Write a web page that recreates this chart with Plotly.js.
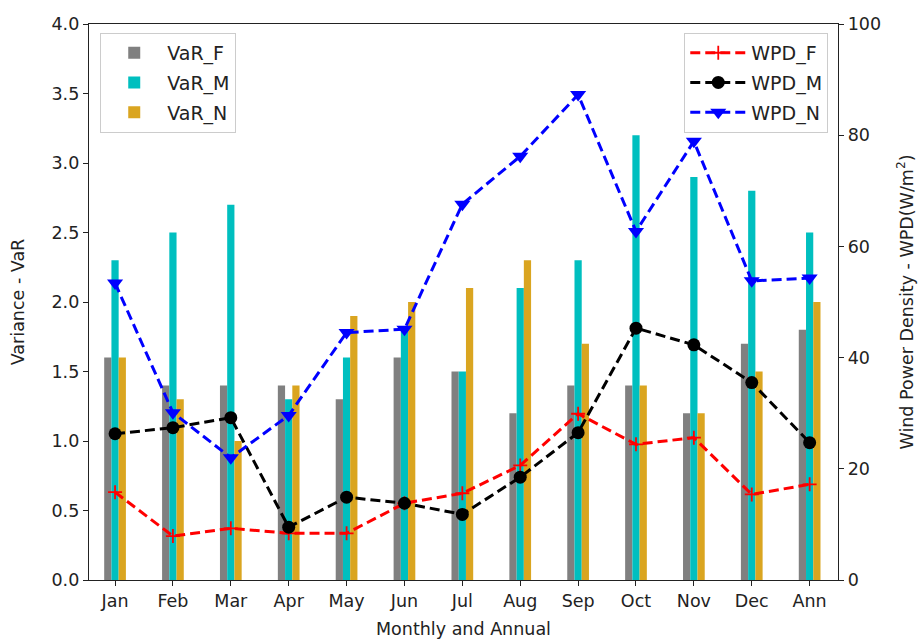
<!DOCTYPE html>
<html>
<head>
<meta charset="utf-8">
<script src="https://cdn.plot.ly/plotly-3.0.1.min.js"></script>
<style>html,body{margin:0;padding:0;background:#fff;}#chart{width:924px;height:644px;}</style>
</head>
<body>
<div id="chart"></div>
<script>
const categories = ["Jan","Feb","Mar","Apr","May","Jun","Jul","Aug","Sep","Oct","Nov","Dec","Ann"];
const varF = [1.6,1.4,1.4,1.4,1.3,1.6,1.5,1.2,1.4,1.4,1.2,1.7,1.8];
const varM = [2.3,2.5,2.7,1.3,1.6,1.8,1.5,2.1,2.3,3.2,2.9,2.8,2.5];
const varN = [1.6,1.3,1.0,1.4,1.9,2.0,2.1,2.3,1.7,1.4,1.2,1.5,2.0];
const wpdF = [15.8,7.9,9.3,8.4,8.4,13.8,15.6,20.6,29.9,24.4,25.6,15.4,17.2];
const wpdM = [26.3,27.4,29.2,9.5,14.9,13.8,11.8,18.5,26.5,45.3,42.3,35.5,24.7];
const wpdN = [53.4,30.1,22.0,29.6,44.5,45.1,67.6,76.2,87.3,62.7,78.9,53.8,54.3];

const font = {family: "DejaVu Sans, sans-serif", size: 17.5, color: "#222"};
const legFont = {family: "DejaVu Sans, sans-serif", size: 19, color: "#222"};
const dash = "10px,5px";

const traces = [
  {type:"bar", name:"VaR_F", x:categories, y:varF, marker:{color:"#808080"}, legend:"legend", legendgroup:"a"},
  {type:"bar", name:"VaR_M", x:categories, y:varM, marker:{color:"#00bfbf"}, legend:"legend", legendgroup:"b"},
  {type:"bar", name:"VaR_N", x:categories, y:varN, marker:{color:"#daa520"}, legend:"legend", legendgroup:"c"},
  {type:"scatter", mode:"lines+markers", name:"WPD_F", x:categories, y:wpdF, yaxis:"y2", legend:"legend2", legendgroup:"d",
   line:{color:"#ff0000", width:3, dash:dash},
   marker:{symbol:"cross-thin", size:10, color:"#ff0000", line:{color:"#ff0000", width:1.8}}},
  {type:"scatter", mode:"lines+markers", name:"WPD_M", x:categories, y:wpdM, yaxis:"y2", legend:"legend2", legendgroup:"e",
   line:{color:"#000000", width:3, dash:dash},
   marker:{symbol:"circle", size:13, color:"#000000"}},
  {type:"scatter", mode:"lines+markers", name:"WPD_N", x:categories, y:wpdN, yaxis:"y2", legend:"legend2", legendgroup:"f",
   line:{color:"#0000ff", width:3, dash:dash},
   marker:{symbol:"triangle-down", size:14, color:"#0000ff"}}
];

const layout = {
  width:924, height:644,
  margin:{l:89, r:86, t:24, b:64},
  paper_bgcolor:"#fff", plot_bgcolor:"#fff",
  font: font,
  barmode:"group", bargap:0.625, bargroupgap:0,
  showlegend:true,
  xaxis:{
    type:"category", range:[-0.45, 12.49],
    showline:true, mirror:true, linecolor:"#222", linewidth:1.2,
    ticks:"outside", ticklen:5, tickcolor:"#222", showgrid:false, zeroline:false,
    tickfont:font,
    title:{text:"Monthly and Annual", font:font, standoff:12}
  },
  yaxis:{
    range:[0,4], tickvals:[0,0.5,1,1.5,2,2.5,3,3.5,4],
    ticktext:["0.0","0.5","1.0","1.5","2.0","2.5","3.0","3.5","4.0"],
    showline:true, linecolor:"#222", linewidth:1.2,
    ticks:"outside", ticklen:5, tickcolor:"#222", showgrid:false, zeroline:false,
    tickfont:font,
    title:{text:"Variance - VaR", font:font, standoff:22}
  },
  yaxis2:{
    overlaying:"y", side:"right", range:[0,100], tickvals:[0,20,40,60,80,100],
    showline:true, linecolor:"#222", linewidth:1.2,
    ticks:"outside", ticklen:5, tickcolor:"#222", showgrid:false, zeroline:false,
    tickfont:font,
    title:{text:"Wind Power Density - WPD(W/m<sup>2</sup>)", font:font, standoff:20}
  },
  legend:{
    x:0.015, y:0.984, xanchor:"left", yanchor:"top",
    bgcolor:"rgba(255,255,255,0.85)", bordercolor:"#cccccc", borderwidth:1,
    font:legFont, tracegroupgap:2, traceorder:"grouped", itemwidth:56
  },
  legend2:{
    x:0.987, y:0.984, xanchor:"right", yanchor:"top",
    bgcolor:"rgba(255,255,255,0.85)", bordercolor:"#cccccc", borderwidth:1,
    font:legFont, tracegroupgap:2, traceorder:"grouped", itemwidth:56
  }
};

Plotly.newPlot("chart", traces, layout, {displayModeBar:false, staticPlot:true});
</script>
</body>
</html>
